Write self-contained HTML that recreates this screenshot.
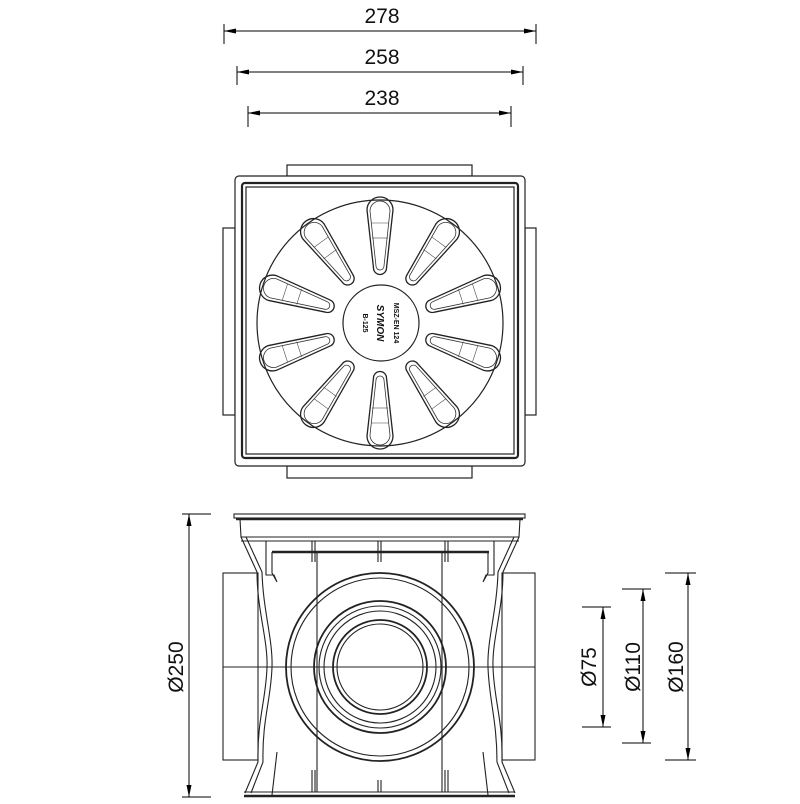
<!DOCTYPE html>
<html><head><meta charset="utf-8"><style>
html,body{margin:0;padding:0;background:#fff;}
svg{display:block;}
text{font-family:"Liberation Sans",Arial,sans-serif;fill:#111;}
</style></head><body>
<svg width="800" height="804" viewBox="0 0 800 804" xmlns="http://www.w3.org/2000/svg">
<defs>
<marker id="a" viewBox="0 0 12 6" refX="12" refY="3" markerWidth="12" markerHeight="6" orient="auto-start-reverse" markerUnits="userSpaceOnUse">
<path d="M0,0.5 L12,3 L0,5.5 Z" fill="#000"/></marker>
<g id="slot">
<path d="M55,-6.5 L113,-13 A13,13 0 0 1 113,13 L55,6.5 A6.5,6.5 0 0 1 55,-6.5 Z" fill="none" stroke="#222" stroke-width="1.3"/>
<path d="M57,-4 L112,-10 A10,10 0 0 1 112,10 L57,4 A4,4 0 0 1 57,-4 Z" fill="none" stroke="#333" stroke-width="0.8"/>
<line x1="85" y1="-8" x2="85" y2="8" stroke="#444" stroke-width="0.6"/>
<line x1="100" y1="-9" x2="100" y2="9" stroke="#444" stroke-width="0.6"/>
</g>
</defs>
<g stroke="#000" fill="none" stroke-width="1">
<!-- top dimensions -->
<line x1="224" y1="31" x2="536" y2="31" marker-start="url(#a)" marker-end="url(#a)"/>
<line x1="224" y1="24" x2="224" y2="44"/><line x1="536" y1="24" x2="536" y2="44"/>
<line x1="237" y1="72" x2="523" y2="72" marker-start="url(#a)" marker-end="url(#a)"/>
<line x1="237" y1="66" x2="237" y2="85"/><line x1="523" y1="66" x2="523" y2="85"/>
<line x1="248" y1="113" x2="511" y2="113" marker-start="url(#a)" marker-end="url(#a)"/>
<line x1="248" y1="106" x2="248" y2="127"/><line x1="511" y1="106" x2="511" y2="127"/>
</g>
<text x="382" y="23" font-size="21" text-anchor="middle">278</text>
<text x="382" y="64" font-size="21" text-anchor="middle">258</text>
<text x="382" y="105" font-size="21" text-anchor="middle">238</text>

<!-- top view -->
<g fill="none" stroke="#222" stroke-width="1.2">
<rect x="287" y="165" width="185" height="11"/>
<rect x="287" y="466" width="185" height="12"/>
<rect x="223" y="228" width="12" height="187"/>
<rect x="525" y="228" width="11" height="187"/>
<rect x="235" y="176" width="290" height="290" rx="4" fill="#fff"/>
<rect x="242" y="183" width="276" height="275" rx="3" stroke-width="2.2"/>
<rect x="246" y="187" width="268" height="267"/>
<circle cx="380" cy="323" r="123"/>
<circle cx="381" cy="323" r="38"/>
</g>
<g transform="translate(380,323)">
<use href="#slot" transform="rotate(-90)"/>
<use href="#slot" transform="rotate(-54)"/>
<use href="#slot" transform="rotate(-18)"/>
<use href="#slot" transform="rotate(18)"/>
<use href="#slot" transform="rotate(54)"/>
<use href="#slot" transform="rotate(90)"/>
<use href="#slot" transform="rotate(126)"/>
<use href="#slot" transform="rotate(162)"/>
<use href="#slot" transform="rotate(198)"/>
<use href="#slot" transform="rotate(234)"/>
</g>
<text transform="translate(363,323) rotate(90)" font-size="7" text-anchor="middle" font-weight="bold">B-125</text>
<text transform="translate(377,323) rotate(90)" font-size="10" text-anchor="middle" font-style="italic" font-weight="bold">SYMON</text>
<text transform="translate(394,323) rotate(90)" font-size="7" text-anchor="middle" font-weight="bold">MSZ-EN 124</text>

<!-- side view -->
<g fill="none" stroke="#222" stroke-width="1.1">
<rect x="234" y="514" width="291" height="4"/>
<line x1="236" y1="519" x2="523" y2="519" stroke-width="2.5"/>
<path d="M240,519 L241,537 L519,537 L520,519"/>
<line x1="241" y1="541" x2="519" y2="541"/>
<line x1="272" y1="552" x2="489" y2="552" stroke-width="2.5"/>
<!-- pipes -->
<rect x="223" y="573" width="35" height="187"/>
<rect x="502" y="573" width="33" height="187"/>
<line x1="223" y1="667" x2="535" y2="667"/>
<!-- body walls -->
<path d="M241,537 L257,572 C257,610 268,640 267,667 C266,700 257,720 258,762 L245,793"/>
<path d="M246,537 L262,572 C263,610 273,640 272,667 C271,700 262,720 263,762 L251,793"/>
<path d="M519,537 L503,572 C503,610 492,640 493,667 C494,700 503,720 502,762 L515,793"/>
<path d="M514,537 L498,572 C497,610 487,640 488,667 C489,700 497,720 497,762 L509,793"/>
<path d="M259,541 L266,541 L266,575 L274,575 L277,582 L272,573 L272,552"/>
<path d="M501,541 L494,541 L494,575 L486,575 L483,582 L488,573 L488,552"/>
<line x1="244" y1="796" x2="515" y2="796" stroke-width="2.5"/>
<line x1="244" y1="792" x2="515" y2="792"/>
<path d="M272,795 L277,752 M488,795 L483,752"/>
<line x1="317" y1="552" x2="317" y2="792"/>
<line x1="442" y1="552" x2="442" y2="792"/>
<path d="M312,541 L312,562 M315,541 L315,562 M378,541 L378,562 M381,541 L381,562 M445,541 L445,562 M448,541 L448,562"/>
<path d="M312,792 L312,770 M315,792 L315,770 M378,792 L378,780 M381,792 L381,780 M445,792 L445,770 M448,792 L448,770"/>
<!-- circles -->
<circle cx="380" cy="667" r="94" stroke-width="1.8"/>
<circle cx="380" cy="667" r="89"/>
<circle cx="380" cy="667" r="66" stroke-width="1.8"/>
<circle cx="380" cy="667" r="61"/>
<circle cx="380" cy="667" r="56"/>
<circle cx="380" cy="667" r="47" stroke-width="1.8"/>
<circle cx="380" cy="667" r="43"/>
</g>

<!-- side dims -->
<g stroke="#000" fill="none" stroke-width="1">
<line x1="189" y1="514" x2="189" y2="797" marker-start="url(#a)" marker-end="url(#a)"/>
<line x1="182" y1="514" x2="211" y2="514"/><line x1="182" y1="797" x2="211" y2="797"/>
<line x1="603" y1="607" x2="603" y2="727" marker-start="url(#a)" marker-end="url(#a)"/>
<line x1="582" y1="607" x2="611" y2="607"/><line x1="582" y1="727" x2="611" y2="727"/>
<line x1="643" y1="589" x2="643" y2="743" marker-start="url(#a)" marker-end="url(#a)"/>
<line x1="622" y1="589" x2="651" y2="589"/><line x1="622" y1="743" x2="651" y2="743"/>
<line x1="688" y1="573" x2="688" y2="760" marker-start="url(#a)" marker-end="url(#a)"/>
<line x1="665" y1="573" x2="696" y2="573"/><line x1="665" y1="760" x2="696" y2="760"/>
</g>
<text transform="translate(183,667) rotate(-90)" font-size="21" text-anchor="middle">Ø250</text>
<text transform="translate(596,667) rotate(-90)" font-size="21" text-anchor="middle">Ø75</text>
<text transform="translate(640,667) rotate(-90)" font-size="21" text-anchor="middle">Ø110</text>
<text transform="translate(683,667) rotate(-90)" font-size="21" text-anchor="middle">Ø160</text>
</svg>
</body></html>
